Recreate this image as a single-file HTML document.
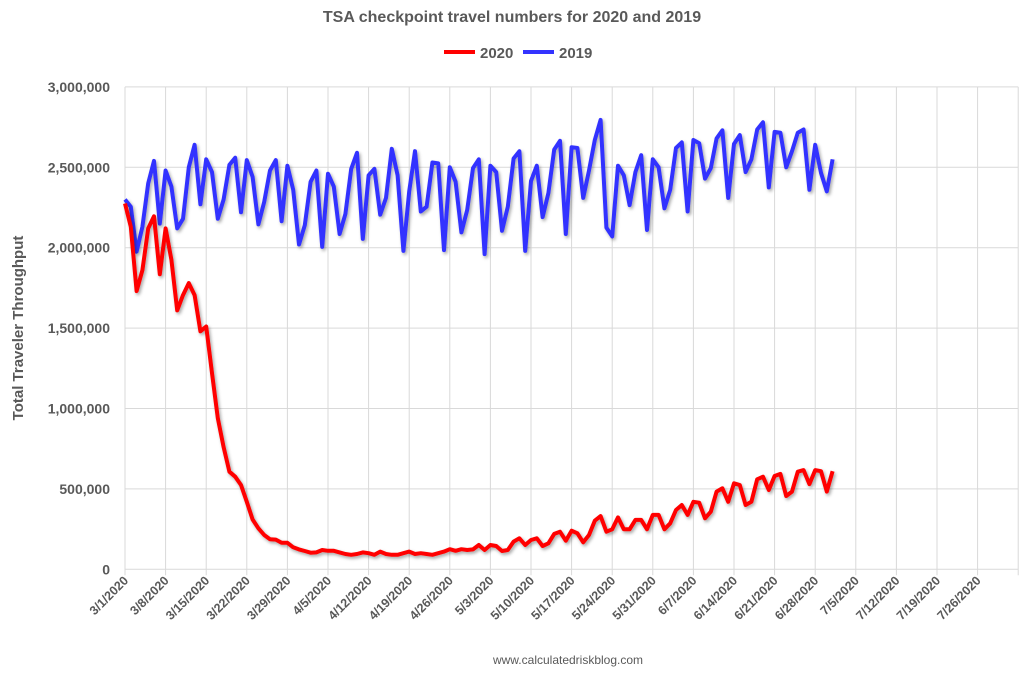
<!DOCTYPE html>
<html><head><meta charset="utf-8"><style>
body{margin:0;background:#fff;font-family:"Liberation Sans",Arial,sans-serif}
svg text{font-family:"Liberation Sans",Arial,sans-serif}
</style></head><body>
<svg id="chart" width="1025" height="674" xmlns="http://www.w3.org/2000/svg">
<defs><filter id="sh" x="-5%" y="-5%" width="110%" height="115%"><feDropShadow dx="1.5" dy="2" stdDeviation="1.5" flood-color="#000" flood-opacity="0.35"/></filter></defs>
<text x="512" y="22" text-anchor="middle" font-size="16" font-weight="bold" fill="#595959">TSA checkpoint travel numbers for 2020 and 2019</text>
<g>
<line x1="444" y1="52" x2="475" y2="52" stroke="#ff0000" stroke-width="4"/>
<text x="480" y="58" font-size="15" font-weight="bold" fill="#595959">2020</text>
<line x1="523" y1="52" x2="554" y2="52" stroke="#3333ff" stroke-width="4"/>
<text x="559" y="58" font-size="15" font-weight="bold" fill="#595959">2019</text>
</g>
<g id="grid"></g><g id="axes"></g><g id="series"></g>
<text transform="translate(23,328) rotate(-90)" text-anchor="middle" font-size="15" font-weight="bold" fill="#595959">Total Traveler Throughput</text>
<text x="568" y="664" text-anchor="middle" font-size="12" fill="#595959">www.calculatedriskblog.com</text>
</svg>
<script>
const yTicks=[0,500000,1000000,1500000,2000000,2500000,3000000];
const yTickLabels=["0","500,000","1,000,000","1,500,000","2,000,000","2,500,000","3,000,000"];
const xTickLabels=["3/1/2020","3/8/2020","3/15/2020","3/22/2020","3/29/2020","4/5/2020","4/12/2020","4/19/2020","4/26/2020","5/3/2020","5/10/2020","5/17/2020","5/24/2020","5/31/2020","6/7/2020","6/14/2020","6/21/2020","6/28/2020","7/5/2020","7/12/2020","7/19/2020","7/26/2020"];
const series2019=[2300000,2255000,1975000,2130000,2400000,2540000,2150000,2480000,2380000,2120000,2180000,2500000,2640000,2270000,2550000,2470000,2180000,2300000,2515000,2560000,2220000,2545000,2440000,2145000,2285000,2480000,2545000,2165000,2510000,2360000,2020000,2140000,2410000,2480000,2005000,2460000,2380000,2085000,2210000,2490000,2590000,2055000,2450000,2490000,2205000,2310000,2615000,2450000,1980000,2350000,2600000,2225000,2255000,2530000,2525000,1985000,2500000,2410000,2095000,2235000,2495000,2550000,1960000,2510000,2470000,2105000,2255000,2555000,2600000,1980000,2415000,2510000,2190000,2340000,2610000,2665000,2085000,2625000,2620000,2310000,2480000,2670000,2795000,2125000,2070000,2510000,2450000,2265000,2470000,2575000,2110000,2550000,2500000,2245000,2360000,2620000,2655000,2225000,2670000,2650000,2430000,2495000,2680000,2730000,2310000,2645000,2700000,2470000,2550000,2735000,2780000,2375000,2720000,2715000,2500000,2600000,2715000,2735000,2360000,2640000,2465000,2350000,2550000];
const series2020=[2275000,2130000,1730000,1860000,2120000,2195000,1835000,2120000,1925000,1610000,1705000,1780000,1705000,1480000,1510000,1220000,940000,760000,607000,576000,524000,420000,310000,255000,213000,187000,185000,165000,165000,137000,124000,114000,103000,105000,120000,115000,115000,105000,95000,90000,95000,105000,100000,90000,110000,95000,90000,90000,100000,110000,95000,100000,95000,90000,100000,110000,125000,115000,125000,120000,124000,151000,120000,151000,145000,114000,120000,172000,193000,151000,182000,193000,145000,162000,220000,234000,178000,240000,224000,168000,213000,302000,331000,234000,249000,323000,249000,249000,307000,307000,249000,338000,338000,249000,286000,369000,400000,338000,420000,414000,317000,358000,483000,504000,420000,535000,524000,400000,420000,560000,576000,493000,580000,593000,456000,483000,607000,617000,530000,617000,610000,483000,610000];
const NS="http://www.w3.org/2000/svg";
const X0=125,DX=5.8,Y0=569.3,YMAX=3000000,YTOP=86.9;
const xS=d=>X0+d*DX;
const yS=v=>Y0-(v/YMAX)*(Y0-YTOP);
const grid=document.getElementById('grid'),axes=document.getElementById('axes'),ser=document.getElementById('series');
function mk(t,a,p){const e=document.createElementNS(NS,t);for(const k in a)e.setAttribute(k,a[k]);p.appendChild(e);return e;}
yTicks.forEach((v,i)=>{
 const l=mk('line',{x1:X0,x2:xS(154),y1:yS(v),y2:yS(v),stroke:'#d9d9d9','stroke-width':1},grid);
 
 
 const t=mk('text',{x:110,y:yS(v)+5,'text-anchor':'end','font-size':14,'font-weight':'bold',fill:'#595959'},axes);
 t.textContent=yTickLabels[i];
 
 
});
for(let w=0;w<=22;w++){
 const l=mk('line',{x1:xS(w*7),x2:xS(w*7),y1:YTOP,y2:Y0+6,stroke:'#d9d9d9','stroke-width':1},grid);
 
 
}
xTickLabels.forEach((s,i)=>{
 const x=xS(i*7)+4,y=Y0+12;
 const t=mk('text',{x:x,y:y,'text-anchor':'end','font-size':12.5,'font-weight':'bold',fill:'#595959',transform:`rotate(-45 ${x} ${y})`},axes);
 t.textContent=s;
 
 
});
function line(data,col,name){
 const p=mk('polyline',{points:data.map((v,i)=>xS(i).toFixed(1)+','+yS(v).toFixed(1)).join(' '),fill:'none',stroke:col,'stroke-width':4,'stroke-linejoin':'round',filter:'url(#sh)'},ser);
 
 
}
line(series2019,'#3333ff','series-2019-line');
line(series2020,'#ff0000','series-2020-line');
</script>
</body></html>
